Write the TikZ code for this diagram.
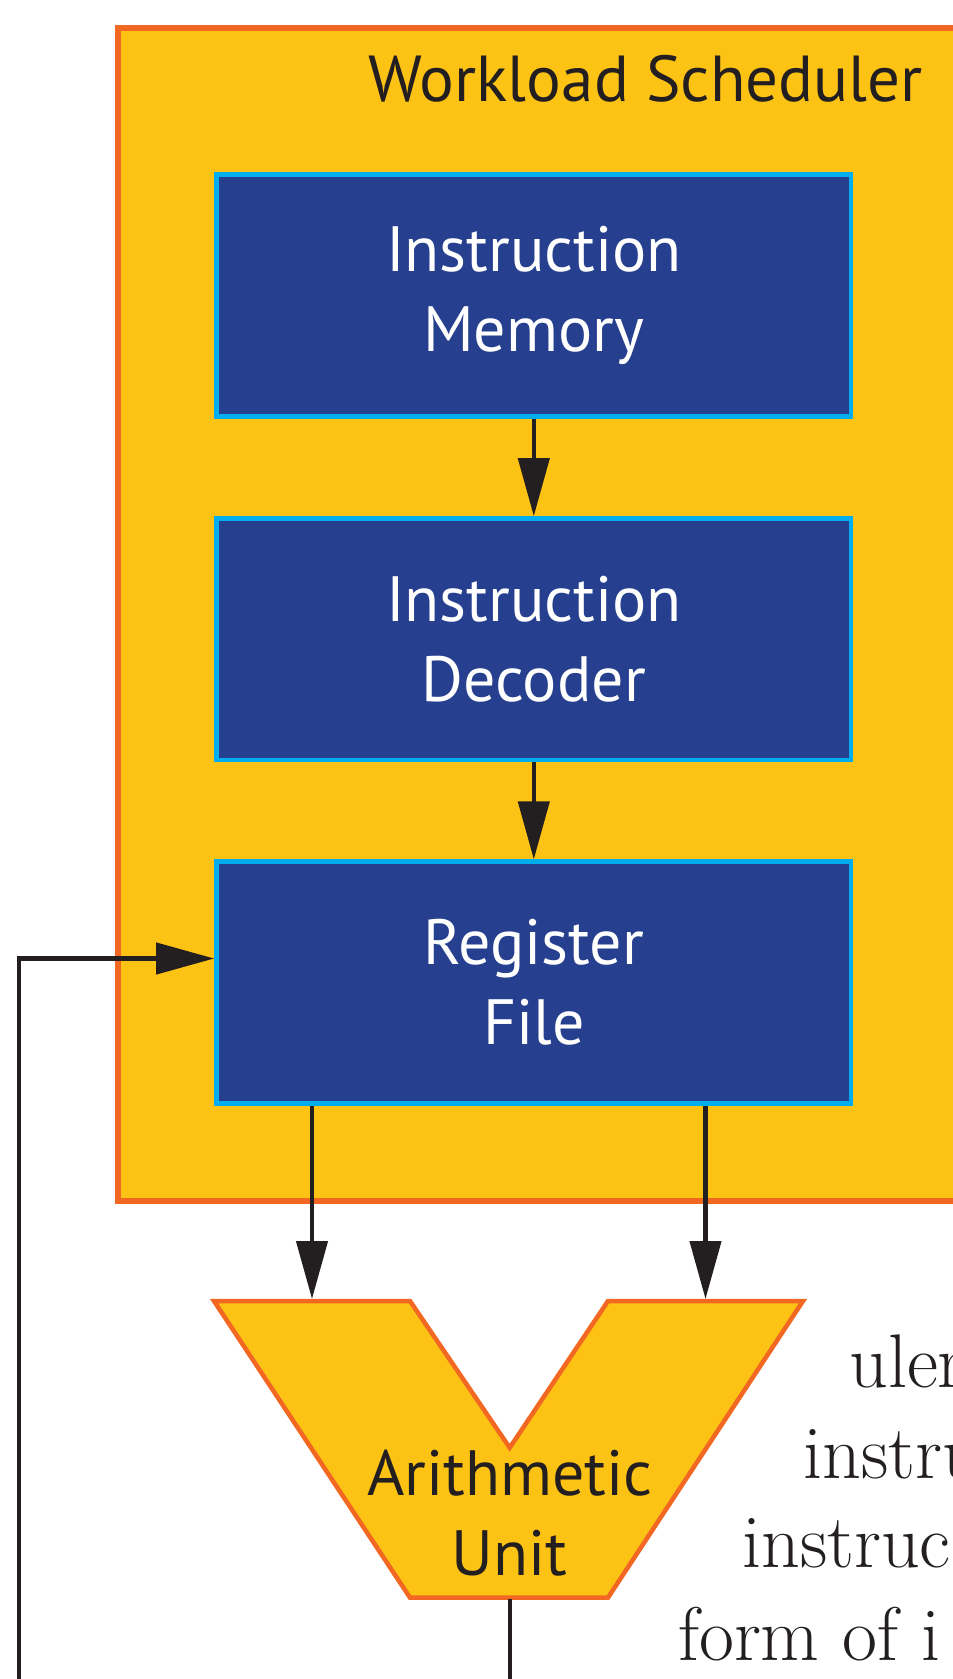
\documentclass[tikz,border=0pt]{standalone}
\usepackage{fontspec}
\newfontfamily\figsans{PT Sans}
\usepackage{tikz}
\usetikzlibrary{arrows.meta}

\definecolor{schedfill}{HTML}{FDC314}
\definecolor{schedline}{HTML}{F26722}
\definecolor{unitblue}{HTML}{263F8E}
\definecolor{unitline}{HTML}{00AEEF}
\definecolor{ink}{HTML}{231F20}

\begin{document}
\begin{tikzpicture}[
    x=1pt, y=-1pt,
    unit/.style={rectangle, draw=unitline, fill=unitblue, line width=4.5pt,
        minimum width=634.7pt, minimum height=241.8pt, text=white, align=center,
        font=\figsans\fontsize{64}{80}\selectfont},
    lbl/.style={text=ink, align=center, inner sep=0pt, font=\figsans\fontsize{64}{80}\selectfont},
    arr/.style={ink, line width=4.3pt, -{Triangle[length=58pt, width=31pt]}},
    wire/.style={ink, line width=4.3pt},
    body/.style={text=ink, anchor=base west, inner sep=0pt, font=\fontsize{76}{90}\selectfont} % Textreste rechts
]
\useasboundingbox (0,0) rectangle (953,1679);
\clip (0,0) rectangle (953,1679);

% Scheduler
\draw[draw=schedline, fill=schedfill, line width=5.5pt] (118,28) rectangle (990,1201);
\node[lbl, anchor=base east] (title) at (923,101.7) {\fontsize{65}{80}\selectfont Workload Scheduler};

\node[unit] (im) at (533.8,295.5) {Instruction\\Memory};
\node[unit] (id) at (533.8,639.3) {Instruction\\Decoder};
\node[unit] (rf) at (533.8,982.5) {Register\\File};

\draw[arr] (im) -- (id);
\draw[arr] (id) -- (rf);

% ALU
\draw[draw=schedline, fill=schedfill, line width=4.5pt]
    (214,1301) -- (410,1301) -- (509.7,1447.7) -- (608,1301) -- (803,1301)
    -- (608,1597.6) -- (410,1597.6) -- cycle;
\node[lbl] (alu) at (509.7,1513.5) {Arithmetic\\Unit};
\coordinate (alul) at (312,1299);
\coordinate (alur) at (705.5,1299);
\coordinate (alubot) at (509.7,1599);

\draw[arr] (rf.south -| alul) -- (alul);
\draw[arr] (rf.south -| alur) -- (alur);

\coordinate (out) at (509.7,1680);
\coordinate (fbin) at (19.3,1680);
\draw[wire] (alubot) -- (out);
\draw[arr] (fbin) |- ([yshift=24pt]rf.west);

\node[body] (t1) at (849,1387) {uler};
\node[body] (t2) at (803,1478) {instru};
\node[body] (t3) at (742,1567) {instruc};
\node[body] (t4) at (678,1660) {form of i};
\end{tikzpicture}
\end{document}
